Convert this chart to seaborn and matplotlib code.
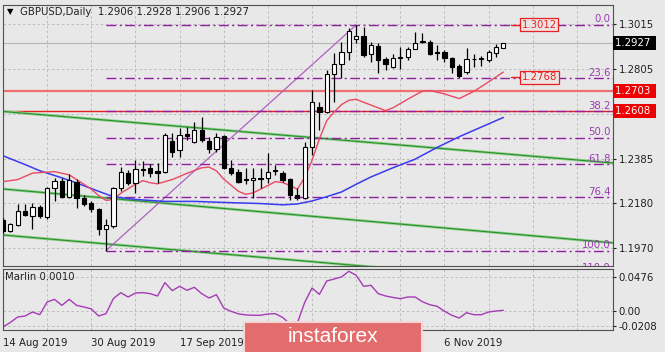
import numpy as np
import pandas as pd
import seaborn as sns
import matplotlib.pyplot as plt
import matplotlib.transforms as mtransforms
from matplotlib.patches import Rectangle

# GBPUSD daily candles, one per trading day from 14 Aug 2019 to 18 Nov 2019
opens = [1.2100, 1.2051, 1.2078, 1.2143, 1.2120, 1.2163, 1.2117, 1.2249, 1.2283, 1.2210,
         1.2280, 1.2205, 1.2179, 1.2152, 1.2059, 1.2074, 1.2249, 1.2322, 1.2272, 1.2338,
         1.2342, 1.2331, 1.2327, 1.2471, 1.2428, 1.2503, 1.2467, 1.2521, 1.2471, 1.2431,
         1.2493, 1.2342, 1.2327, 1.2291, 1.2290, 1.2295, 1.2296, 1.2335, 1.2319, 1.2291,
         1.2218, 1.2205, 1.2443, 1.2627, 1.2607, 1.2781, 1.2828, 1.2887, 1.2946, 1.2960,
         1.2876, 1.2913, 1.2852, 1.2817, 1.2860, 1.2861, 1.2898, 1.2932, 1.2931, 1.2885,
         1.2884, 1.2856, 1.2820, 1.2794, 1.2852, 1.2854, 1.2848, 1.2882, 1.2906]
highs = [1.2110, 1.2088, 1.2175, 1.2175, 1.2180, 1.2171, 1.2257, 1.2296, 1.2296, 1.2315,
         1.2291, 1.2218, 1.2190, 1.2155, 1.2106, 1.2257, 1.2350, 1.2335, 1.2381, 1.2378,
         1.2363, 1.2366, 1.2506, 1.2506, 1.2529, 1.2537, 1.2560, 1.2584, 1.2490, 1.2506,
         1.2498, 1.2381, 1.2338, 1.2342, 1.2342, 1.2342, 1.2413, 1.2358, 1.2330, 1.2295,
         1.2249, 1.2467, 1.2708, 1.2651, 1.2802, 1.2880, 1.2934, 1.2996, 1.3012, 1.3004,
         1.2934, 1.2929, 1.2861, 1.2875, 1.2908, 1.2908, 1.2978, 1.2976, 1.2942, 1.2918,
         1.2895, 1.2864, 1.2830, 1.2903, 1.2876, 1.2866, 1.2895, 1.2923, 1.2928]
lows = [1.2040, 1.2046, 1.2075, 1.2118, 1.2059, 1.2109, 1.2106, 1.2190, 1.2205, 1.2205,
        1.2156, 1.2166, 1.2140, 1.2031, 1.1958, 1.2065, 1.2235, 1.2265, 1.2226, 1.2306,
        1.2303, 1.2272, 1.2322, 1.2397, 1.2397, 1.2475, 1.2459, 1.2467, 1.2413, 1.2420,
        1.2338, 1.2311, 1.2272, 1.2269, 1.2202, 1.2249, 1.2272, 1.2311, 1.2280, 1.2195,
        1.2195, 1.2200, 1.2405, 1.2521, 1.2600, 1.2654, 1.2763, 1.2848, 1.2926, 1.2864,
        1.2840, 1.2789, 1.2802, 1.2810, 1.2805, 1.2848, 1.2898, 1.2926, 1.2872, 1.2848,
        1.2840, 1.2789, 1.2763, 1.2783, 1.2814, 1.2818, 1.2840, 1.2861, 1.2906]
closes = [1.2051, 1.2082, 1.2143, 1.2124, 1.2163, 1.2120, 1.2249, 1.2283, 1.2210, 1.2288,
          1.2205, 1.2174, 1.2151, 1.2059, 1.2078, 1.2249, 1.2327, 1.2272, 1.2338, 1.2333,
          1.2319, 1.2322, 1.2498, 1.2420, 1.2498, 1.2494, 1.2521, 1.2475, 1.2431, 1.2490,
          1.2342, 1.2319, 1.2280, 1.2289, 1.2295, 1.2292, 1.2327, 1.2330, 1.2288, 1.2218,
          1.2202, 1.2443, 1.2651, 1.2607, 1.2781, 1.2828, 1.2887, 1.2984, 1.2962, 1.2872,
          1.2918, 1.2848, 1.2828, 1.2856, 1.2862, 1.2900, 1.2929, 1.2936, 1.2876, 1.2883,
          1.2856, 1.2817, 1.2774, 1.2852, 1.2854, 1.2856, 1.2884, 1.2910, 1.2927]

# moving averages (bar index, price)
fast_ma_bars = [0, 2, 4, 7, 9, 11, 12, 13, 14, 15, 16, 18, 19, 20, 21, 23, 25, 27, 28, 29,
                30, 32, 33, 34, 36, 37, 38, 39, 40, 41, 42, 43, 44, 45, 46, 47, 48, 49, 50,
                52, 53, 55, 57, 58, 60, 62, 63, 64, 66, 68]
fast_ma = [1.2280, 1.2290, 1.2320, 1.2327, 1.2312, 1.2268, 1.2245, 1.2215, 1.2193, 1.2196,
           1.2226, 1.2268, 1.2285, 1.2275, 1.2270, 1.2290, 1.2319, 1.2345, 1.2348, 1.2331,
           1.2292, 1.2235, 1.2221, 1.2228, 1.2262, 1.2280, 1.2276, 1.2262, 1.2245, 1.2300,
           1.2380, 1.2480, 1.2565, 1.2605, 1.2640, 1.2660, 1.2665, 1.2651, 1.2638,
           1.2612, 1.2625, 1.2665, 1.2703, 1.2706, 1.2690, 1.2668, 1.2685, 1.2702, 1.2746, 1.2792]
slow_ma_bars = [0, 3, 5, 8, 10, 13, 15, 18, 22, 26, 31, 35, 38, 40, 42, 44, 46, 48, 50, 53,
                56, 59, 62, 65, 68]
slow_ma = [1.2401, 1.2360, 1.2331, 1.2298, 1.2274, 1.2235, 1.2210, 1.2197, 1.2188, 1.2188,
           1.2182, 1.2178, 1.2172, 1.2176, 1.2190, 1.2210, 1.2232, 1.2268, 1.2302, 1.2345,
           1.2385, 1.2440, 1.2490, 1.2535, 1.2580]

# Marlin oscillator, one value per bar
marlin = [-0.0224, -0.0160, -0.0084, -0.0070, -0.0014, -0.0051, 0.0126, 0.0163, 0.0079, 0.0163,
          0.0079, 0.0056, 0.0030, -0.0070, -0.0037, 0.0173, 0.0257, 0.0196, 0.0252, 0.0257,
          0.0243, 0.0210, 0.0397, 0.0285, 0.0345, 0.0290, 0.0332, 0.0243, 0.0182, 0.0229,
          0.0042, -0.0005, -0.0040, -0.0055, -0.0060, -0.0060, -0.0042, -0.0037, -0.0090, -0.0180,
          -0.0170, 0.0120, 0.0322, 0.0233, 0.0420, 0.0448, 0.0476, 0.0556, 0.0500, 0.0346,
          0.0360, 0.0242, 0.0210, 0.0190, 0.0172, 0.0196, 0.0196, 0.0130, 0.0088, 0.0066,
          -0.0004, -0.0060, -0.0098, -0.0024, -0.0052, -0.0052, -0.0014, 0.0000, 0.0010]

# date ticks; the 3 Oct and 21 Oct labels sit under the watermark and are not visible
date_bars = [0, 12, 24, 36, 48, 60]
date_labels = ["14 Aug 2019", "30 Aug 2019", "17 Sep 2019", "", "", "6 Nov 2019"]

# Fibonacci grid from the 3 Sep low to the 21 Oct high
fib_bars = [14, 48]
fib_prices = [1.1958, 1.3012]
fib_levels = [0.0, 23.6, 38.2, 50.0, 61.8, 76.4, 100.0, 110.0]

# descending green channel, price at bar 0 and at bar 83
channel_start = [1.2608, 1.2246, 1.2031]
channel_end = [1.2367, 1.1994, 1.1785]

levels = [1.2703, 1.2608]
price_tags = [1.3012, 1.2768]
last_price = 1.2927
price_ticks = [1.3015, 1.2805, 1.2595, 1.2385, 1.2180, 1.1970]
marlin_ticks = [0.0476, 0.0, -0.0208]
marlin_tick_labels = ["0.0476", "0.00", "-0.0208"]

df = pd.DataFrame({"open": opens, "high": highs, "low": lows, "close": closes})
df["bar"] = np.arange(len(df))

bg = "#e8e8e8"
sns.set_theme(style="whitegrid", rc={
    "axes.facecolor": bg, "figure.facecolor": bg, "axes.edgecolor": "#505050",
    "grid.color": "#bcbcbc", "grid.linestyle": (0, (2.5, 2.5)), "grid.linewidth": 0.7,
})
plt.rcParams["font.family"] = ["DejaVu Sans"]
fs = 7.3

fig = plt.figure(figsize=(6.65, 3.52), dpi=100)
ax = fig.add_axes([3 / 665, 86 / 352, 610 / 665, 261 / 352])
ax2 = fig.add_axes([3 / 665, 22 / 352, 610 / 665, 61 / 352])
xmax = 82.9
grid_bars = list(range(6, 83, 6))

# horizontal levels
ax.axhline(last_price, color="#b4b4b4", lw=0.8, zorder=1)
ax.axhline(levels[0], color="#f07070", lw=1.6, zorder=2)
ax.axhline(levels[1], color="#e82020", lw=1.0, zorder=2)

# channel + swing line
for s, e in zip(channel_start, channel_end):
    ax.plot([0, 83], [s, e], color="#8fd08f", lw=2.0, zorder=2, solid_capstyle="butt")
    ax.plot([0, 83], [s, e], color="#2a8f2a", lw=0.8, zorder=2)
ax.plot(fib_bars, fib_prices, color="#b060c0", lw=0.9, zorder=2)

# fibonacci levels
rng = fib_prices[1] - fib_prices[0]
for lv in fib_levels:
    p = fib_prices[1] - lv / 100 * rng
    ax.plot([fib_bars[0], xmax], [p, p], color="#9020a0", lw=1.0,
            ls=(0, (7, 2.5, 1.5, 2.5)), zorder=3)
    ax.text(xmax - 0.3, p + 0.0003, f"{lv:.1f}", color="#9a3cb0", fontsize=fs,
            ha="right", va="bottom", clip_on=True, zorder=6)

# moving averages
sns.lineplot(x=slow_ma_bars, y=slow_ma, ax=ax, color="#3a3af0", lw=1.1, zorder=3)
sns.lineplot(x=fast_ma_bars, y=fast_ma, ax=ax, color="#e84a64", lw=1.0, zorder=3)

# candles
up = df["close"] >= df["open"]
mid = (df["open"] + df["close"]) / 2
h = np.maximum((df["close"] - df["open"]).abs(), 0.00025)
ax.vlines(df["bar"], df["low"], df["high"], color="black", lw=0.9, zorder=4)
ax.bar(df["bar"], h, bottom=mid - h / 2, width=0.58,
       color=np.where(up, "white", "black"), edgecolor="black", linewidth=0.8, zorder=5)

# price tags near the last bar
for p in price_tags:
    ax.plot([69, 70.4], [p, p], color="#e82020", lw=1.0, zorder=6)
    ax.text(70.5, p, f"{p:.4f}", color="#e82020", fontsize=fs, va="center", ha="left", zorder=7,
            bbox=dict(boxstyle="square,pad=0.15", fc="#ece4e4", ec="#e82020", lw=0.9))

ax.set_xlim(0, xmax)
ax.set_ylim(1.18863, 1.31051)
ax.set_xticks(grid_bars)
ax.set_xticklabels([])
ax.tick_params(axis="x", length=0)
ax.yaxis.tick_right()
ax.set_yticks(price_ticks)
ax.set_yticklabels([f"{p:.4f}" if p != 1.2595 else "" for p in price_ticks])
ax.tick_params(axis="y", length=2.5, pad=1.5, labelsize=fs, colors="#202020", width=0.8)
ax.grid(True)

trans = mtransforms.blended_transform_factory(ax.transAxes, ax.transData)
ax.text(1.004, last_price, "1.2927 ", color="white", fontsize=fs, va="center", ha="left",
        transform=trans, clip_on=False,
        bbox=dict(boxstyle="square,pad=0.2", fc="black", ec="none"))
for p in levels:
    ax.text(1.004, p, f"{p:.4f} ", color="white", fontsize=fs, va="center", ha="left",
            transform=trans, clip_on=False,
            bbox=dict(boxstyle="square,pad=0.2", fc="#f00000", ec="none"))

# Marlin panel
sns.lineplot(x=df["bar"], y=marlin, ax=ax2, color="#a43cb4", lw=1.0)
ax2.set_xlim(0, xmax)
ax2.set_ylim(-0.0266, 0.0588)
ax2.yaxis.tick_right()
ax2.set_yticks(marlin_ticks)
ax2.set_yticklabels(marlin_tick_labels)
ax2.tick_params(axis="y", length=2.5, pad=1.5, labelsize=fs, colors="#202020", width=0.8)
ax2.set_xticks(grid_bars, minor=True)
ax2.set_xticks(date_bars)
ax2.set_xticklabels(date_labels, ha="left")
ax2.tick_params(axis="x", which="major", length=4, pad=2, labelsize=fs, colors="#202020", width=0.8)
ax2.tick_params(axis="x", which="minor", length=0)
ax2.grid(True, which="both", axis="x")
ax2.grid(True, axis="y")
ax2.set_xlabel("")
ax2.set_ylabel("")
ax.set_xlabel("")
ax.set_ylabel("")
ax2.text(0.004, 0.82, "Marlin 0.0010", transform=ax2.transAxes, fontsize=fs, color="#202020")

for a in (ax, ax2):
    for sp in a.spines.values():
        sp.set_color("#505050")
        sp.set_linewidth(0.8)

fig.text(7 / 665, 1 - 12 / 352, "\u25bc", fontsize=6, va="center", color="black")
fig.text(20 / 665, 1 - 12 / 352, "GBPUSD,Daily  1.2906 1.2928 1.2906 1.2927",
         fontsize=fs, va="center", color="#202020")

# watermark
fig.add_artist(Rectangle((244 / 665, -0.01), 178 / 665, 34 / 352, transform=fig.transFigure,
                         fc="#e36c6c", ec="#f3d6d6", lw=1.5, zorder=10))
fig.text(333 / 665, 16 / 352, "instaforex", color="white", fontsize=15, ha="center",
         va="center", zorder=11, family=["Liberation Sans Narrow", "Liberation Sans", "DejaVu Sans"])

fig.savefig("out.png", dpi=100, facecolor=fig.get_facecolor())
